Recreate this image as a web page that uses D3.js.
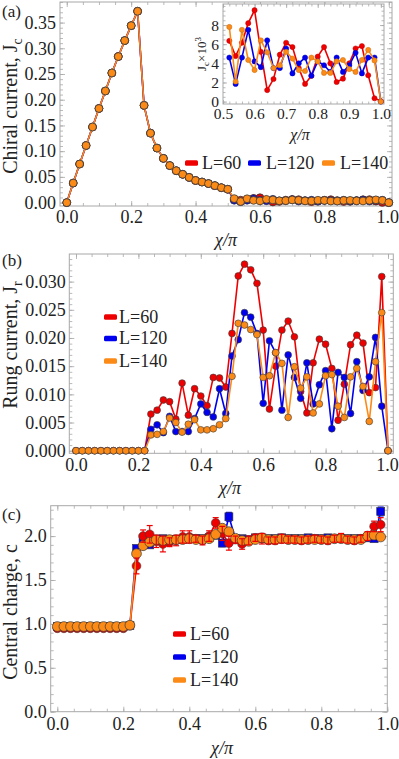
<!DOCTYPE html>
<html><head><meta charset="utf-8">
<script src="https://cdn.jsdelivr.net/npm/d3@7/dist/d3.min.js"></script>
<style>body{margin:0;background:#fff}</style>
</head><body><svg id="c" width="399" height="759"></svg>
<script>
// ---------- DATA ----------
const chi = [0,0.02,0.04,0.06,0.08,0.10,0.12,0.14,0.16,0.18,
             0.20,0.22,0.24,0.26,0.28,0.30,0.32,0.34,0.36,0.38,
             0.40,0.42,0.44,0.46,0.48,0.50,0.52,0.54,0.56,0.58,
             0.60,0.62,0.64,0.66,0.68,0.70,0.72,0.74,0.76,0.78,
             0.80,0.82,0.84,0.86,0.88,0.90,0.92,0.94,0.96,0.98,1.00];
const series = ["L=60","L=120","L=140"];

// (a) chiral current, common part chi=0..0.50
const jcCommon = [0,0.038,0.075,0.111,0.147,0.183,0.217,0.252,0.284,0.315,
                  0.344,0.372,0.189,0.135,0.106,0.086,0.072,0.062,0.055,0.049,
                  0.043,0.040,0.037,0.033,0.029,0.026];
// inset (x10^-3), chi = 0.52..1.00
const chiInset = [0.52,0.54,0.56,0.58,0.60,0.62,0.64,0.66,0.68,0.70,0.72,0.74,0.76,
                  0.78,0.80,0.82,0.84,0.86,0.88,0.90,0.92,0.94,0.96,0.98,1.00];
const jcInsetL60  = [6.35,4.76,6.15,8.2,9.55,5.2,1.2,2.36,4.9,6.15,5.7,3.5,1.85,2.7,4.7,5.7,4.0,2.05,2.4,4.0,5.55,5.8,2.75,0.35,0.05];
const jcInsetL120 = [4.6,1.85,4.6,7.5,4.2,3.6,6.4,3.5,3.5,5.55,2.95,4.0,4.6,2.7,4.2,3.8,3.1,4.6,3.1,3.8,5.1,2.95,4.6,4.6,0.0];
const jcInsetL140 = [7.8,2.1,7.5,4.35,3.3,6.4,5.15,3.5,3.8,5.2,4.5,3.3,3.2,4.6,4.2,3.0,3.0,4.2,4.35,3.4,3.1,4.35,5.4,4.3,0.0];

// (b) rung current
const jrL60 = [0,0,0,0,0,0,0,0,0,0,
  0,0,0.0065,0.0072,0.0090,0.0087,0.0056,0.0120,0.0063,0.0110,
  0.0097,0.0080,0.0130,0.0129,0.0113,0.0208,0.0310,0.0331,0.0321,0.0297,
  0.0214,0.0074,0.0150,0.0214,0.0230,0.0202,0.0105,0.0067,0.0156,0.0198,
  0.0189,0.0146,0.0054,0.0118,0.0188,0.0205,0.0191,0.0103,0.0112,0.0309,
  0.0];
const jrL120 = [0,0,0,0,0,0,0,0,0,0,
  0,0,0.0038,0.0046,0.0032,0.0061,0.0034,0.0034,0.0034,0.0057,
  0.0083,0.0068,0.0060,0.0110,0.0066,0.0168,0.0197,0.0245,0.0237,0.0208,
  0.0084,0.0195,0.0174,0.0072,0.0170,0.0130,0.0093,0.0156,0.0083,0.0117,
  0.0142,0.0039,0.0139,0.0130,0.0066,0.0158,0.0107,0.0131,0.0201,0.0079,
  0.0];
const jrL140 = [0,0,0,0,0,0,0,0,0,0,
  0,0,0.0028,0.0029,0.0034,0.0058,0.0050,0.0033,0.0047,0.0055,
  0.0037,0.0037,0.0039,0.0046,0.0057,0.0132,0.0226,0.0223,0.0215,0.0206,
  0.0130,0.0133,0.0174,0.0155,0.0059,0.0149,0.0111,0.0131,0.0067,0.0083,
  0.0133,0.0135,0.0079,0.0059,0.0131,0.0146,0.0114,0.0052,0.0158,0.0245,
  0.0];

// (c) central charge, chi = 0..0.98
const cL60 = [0.95,0.95,0.95,0.95,0.95,0.95,0.95,0.95,0.95,0.95,
  0.95,0.98,1.66,2.00,2.02,1.94,1.91,1.93,1.95,1.99,
  1.99,1.97,1.95,2.00,2.15,2.03,1.92,1.96,1.91,1.95,
  1.98,1.97,1.95,1.95,1.97,1.96,1.96,1.95,1.96,1.97,
  1.96,1.95,1.97,1.98,1.96,1.95,1.97,2.00,2.11,2.13];
const cErrL60 = [0.01,0.01,0.01,0.01,0.01,0.01,0.01,0.01,0.01,0.01,
  0.01,0.01,0.09,0.07,0.10,0.07,0.09,0.05,0.06,0.07,
  0.07,0.04,0.05,0.06,0.06,0.08,0.08,0.04,0.06,0.05,
  0.04,0.06,0.04,0.04,0.05,0.04,0.04,0.04,0.04,0.04,
  0.04,0.04,0.04,0.05,0.04,0.04,0.04,0.05,0.06,0.08];
const cL120 = [0.97,0.97,0.97,0.97,0.97,0.97,0.97,0.97,0.97,0.97,
  0.97,0.98,1.86,1.97,1.90,1.96,1.97,1.96,1.96,1.96,
  1.97,1.97,1.97,1.98,2.01,1.92,2.22,1.97,1.97,1.96,
  1.98,1.98,1.97,1.97,1.98,1.97,1.97,1.97,1.98,1.97,
  1.97,1.98,1.97,1.97,1.97,1.97,1.97,1.98,1.97,2.28];
const cErrL120 = [0.01,0.01,0.01,0.01,0.01,0.01,0.01,0.01,0.01,0.01,
  0.01,0.01,0.03,0.02,0.02,0.02,0.02,0.02,0.02,0.02,
  0.02,0.02,0.02,0.02,0.02,0.04,0.05,0.02,0.02,0.02,
  0.02,0.02,0.02,0.02,0.02,0.02,0.02,0.02,0.02,0.02,
  0.02,0.02,0.02,0.02,0.02,0.02,0.02,0.02,0.02,0.05];
const cL140 = [0.97,0.97,0.97,0.97,0.97,0.97,0.97,0.97,0.97,0.97,
  0.97,0.985,1.80,1.89,1.93,1.96,1.95,1.96,1.96,1.96,
  1.97,1.96,1.96,1.97,2.02,2.09,2.05,1.975,1.95,1.94,
  1.96,1.98,1.96,1.96,1.97,1.96,1.96,1.96,1.96,1.96,
  1.96,1.96,1.97,1.97,1.96,1.96,1.96,2.00,2.01,1.99];

// tick labels
const xTicksMain = [0,0.2,0.4,0.6,0.8,1.0];
const yTicksA = [0,0.05,0.10,0.15,0.20,0.25,0.30,0.35];
const xTicksInset = [0.5,0.6,0.7,0.8,0.9,1.0];
const yTicksInset = [0,2,4,6,8];
const yTicksB = [0,0.005,0.010,0.015,0.020,0.025,0.030];
const yTicksC = [0,0.5,1.0,1.5,2.0];

// ---------- DRAW ----------
const FONT = '"Liberation Serif","Times New Roman",serif';
const RED='#ee0000', BLUE='#0000ee', ORANGE='#fb8a17', FR='#a8a8a8', MK='#3a3a3a', TXT='#222';
const colors=[RED,BLUE,ORANGE];
const svg=d3.select('#c');
svg.append('rect').attr('width',399).attr('height',759).attr('fill','#fff');

function styleAxis(sel, fs){
  sel.select('.domain').remove();
  sel.attr('font-family',null).attr('font-size',null);
  sel.selectAll('line').attr('stroke',FR).attr('stroke-width',0.8);
  sel.selectAll('text').attr('font-family',FONT).attr('font-size',fs).attr('fill',TXT);
}
function frame(g, x, y, o){
  const [xl,xr]=x.range(), [yb,yt]=y.range();
  const xd=x.domain(), yd=y.domain();
  const minorX=d3.range(Math.ceil(xd[0]/o.xMinor-1e-9), Math.floor(xd[1]/o.xMinor+1e-9)+1).map(i=>+(i*o.xMinor).toFixed(6));
  const minorY=d3.range(Math.ceil(yd[0]/o.yMinor-1e-9), Math.floor(yd[1]/o.yMinor+1e-9)+1).map(i=>+(i*o.yMinor).toFixed(6));
  const add=(axis,tx,ty)=>g.append('g').attr('transform',`translate(${tx},${ty})`).call(axis).call(s=>styleAxis(s,o.fs));
  const M=o.major||5, m=o.minor||3;
  add(d3.axisBottom(x).tickValues(minorX).tickSize(-m).tickFormat(''),0,yb);
  add(d3.axisTop(x).tickValues(minorX).tickSize(-m).tickFormat(''),0,yt);
  add(d3.axisLeft(y).tickValues(minorY).tickSize(-m).tickFormat(''),xl,0);
  add(d3.axisRight(y).tickValues(minorY).tickSize(-m).tickFormat(''),xr,0);
  const bx=add(d3.axisBottom(x).tickValues(o.xTicks).tickSize(-M).tickPadding(o.xPad).tickFormat(d3.format(o.xFmt)),0,yb);
  if(o.lastDx) bx.selectAll('text').filter(d=>d===o.xTicks[o.xTicks.length-1]).attr('dx',o.lastDx);
  add(d3.axisTop(x).tickValues(o.xTicks).tickSize(-M).tickFormat(''),0,yt);
  add(d3.axisLeft(y).tickValues(o.yTicks).tickSize(-M).tickPadding(o.yPad).tickFormat(d3.format(o.yFmt)),xl,0);
  add(d3.axisRight(y).tickValues(o.yTicks).tickSize(-M).tickFormat(''),xr,0);
  g.append('rect').attr('x',xl).attr('y',yt).attr('width',xr-xl).attr('height',yb-yt)
    .attr('fill','none').attr('stroke',FR).attr('stroke-width',1);
}
function yTitle(cx, cy, main, sub, fs){
  const t=svg.append('text').attr('transform',`translate(${cx},${cy}) rotate(-90)`)
    .attr('text-anchor','middle').attr('font-family',FONT).attr('font-size',fs).attr('fill',TXT);
  t.append('tspan').text(main);
  if(sub) t.append('tspan').attr('font-size',fs*0.7).attr('dy',fs*0.25).text(sub);
}
function xTitle(cx, cy, fs){
  svg.append('text').attr('x',cx).attr('y',cy).attr('text-anchor','middle')
    .attr('font-family',FONT).attr('font-size',fs).attr('font-style','italic').attr('fill',TXT).text('χ/π');
}
function panelLabel(x,y,t){
  svg.append('text').attr('x',x).attr('y',y).attr('font-family',FONT).attr('font-size',17).attr('fill',TXT).text(t);
}
function legend(items){ // items: [sx, sy, tx]
  items.forEach((it,i)=>{
    svg.append('rect').attr('x',it[0]).attr('y',it[1]-2.8).attr('width',13).attr('height',5.6).attr('rx',1.5)
      .attr('fill',colors[i]);
    svg.append('text').attr('x',it[2]).attr('y',it[1]+5.5).attr('font-family',FONT).attr('font-size',18)
      .attr('fill',TXT).text(series[i]);
  });
}

// ===== Panel (a) =====
const xA=d3.scaleLinear().domain([-0.021,1.01]).range([60,392]);
const yA=d3.scaleLinear().domain([-0.0066,0.39]).range([206,2]);
const gA=svg.append('g');
frame(gA,xA,yA,{xTicks:xTicksMain,yTicks:yTicksA,xMinor:0.05,yMinor:0.01,xFmt:'.1f',yFmt:'.2f',fs:18,xPad:4,yPad:4,lastDx:-1.5});
const jcSeries=[jcInsetL60,jcInsetL120,jcInsetL140].map(ins=>jcCommon.concat(ins.map(v=>v/1000)));
const lineA=d3.line().x((d,i)=>xA(chi[i])).y(d=>yA(d));
jcSeries.forEach((s,k)=>{
  gA.append('path').attr('d',lineA(s)).attr('fill','none').attr('stroke',colors[k]).attr('stroke-width',1.6);
  gA.selectAll(null).data(s).join('circle').attr('cx',(d,i)=>xA(chi[i])).attr('cy',d=>yA(d)).attr('r',3.9)
    .attr('fill',colors[k]).attr('stroke',MK).attr('stroke-width',0.8);
});
legend([[185,163,202],[248,163,266],[322,163,340]]);
yTitle(17,106,'Chiral current, J','c',20);
xTitle(226,246,18);
panelLabel(2,17,'(a)');

// inset
const xI=d3.scaleLinear().domain([0.5,1.01]).range([223,384]);
const yI=d3.scaleLinear().domain([-0.25,10.2]).range([104,4]);
const gI=svg.append('g');
gI.append('rect').attr('x',223).attr('y',4).attr('width',161).attr('height',100).attr('fill','#fff');
frame(gI,xI,yI,{xTicks:xTicksInset,yTicks:yTicksInset,xMinor:0.02,yMinor:0.5,xFmt:'.1f',yFmt:'.0f',fs:15.5,xPad:4,yPad:4,major:4,minor:2.5});
const lineI=d3.line().x((d,i)=>xI(chiInset[i])).y(d=>yI(d));
[jcInsetL60,jcInsetL120,jcInsetL140].forEach((s,k)=>{
  gI.append('path').attr('d',lineI(s)).attr('fill','none').attr('stroke',colors[k]).attr('stroke-width',1.6);
  gI.selectAll(null).data(s).join('circle').attr('cx',(d,i)=>xI(chiInset[i])).attr('cy',d=>yI(d)).attr('r',2.6)
    .attr('fill',colors[k]).attr('stroke',d3.color(colors[k]).darker(0.6)).attr('stroke-width',0.5);
});
{
  const t=svg.append('text').attr('transform','translate(206,54) rotate(-90)').attr('text-anchor','middle')
    .attr('font-family',FONT).attr('font-size',13).attr('fill',TXT);
  t.append('tspan').text('J');
  t.append('tspan').attr('font-size',9).attr('dy',3).text('c');
  t.append('tspan').attr('dy',-3).text('×10');
  t.append('tspan').attr('font-size',9).attr('dy',-5).text('3');
}
xTitle(300,140,16);

// ===== Panel (b) =====
const xB=d3.scaleLinear().domain([-0.0215,1.017]).range([69.3,393.3]);
const yB=d3.scaleLinear().domain([-0.00046,0.0349]).range([453.3,254]);
const gB=svg.append('g');
frame(gB,xB,yB,{xTicks:xTicksMain,yTicks:yTicksB,xMinor:0.05,yMinor:0.001,xFmt:'.1f',yFmt:'.3f',fs:18,xPad:5,yPad:3.5,lastDx:-1});
const lineB=d3.line().x((d,i)=>xB(chi[i])).y(d=>yB(d));
[jrL60,jrL120,jrL140].forEach((s,k)=>{
  gB.append('path').attr('d',lineB(s)).attr('fill','none').attr('stroke',colors[k]).attr('stroke-width',1.6);
  gB.selectAll(null).data(s).join('circle').attr('cx',(d,i)=>xB(chi[i])).attr('cy',d=>yB(d)).attr('r',3.4)
    .attr('fill',colors[k]).attr('stroke',MK).attr('stroke-width',0.6);
});
legend([[104,317,119],[104,338.5,119],[104,361,119]]);
yTitle(17,345,'Rung current, J','r',20);
xTitle(230,494,18);
panelLabel(2,266,'(b)');

// ===== Panel (c) =====
const xC=d3.scaleLinear().domain([-0.02,1.0]).range([50.7,387.3]);
const yC=d3.scaleLinear().domain([0,2.346]).range([711.7,505.7]);
const gC=svg.append('g');
frame(gC,xC,yC,{xTicks:xTicksMain,yTicks:yTicksC,xMinor:0.05,yMinor:0.1,xFmt:'.1f',yFmt:'.1f',fs:18,xPad:6,yPad:4});
const lineC=d3.line().x((d,i)=>xC(chi[i])).y(d=>yC(d));
function errBars(g, vals, errs, col){
  const eb=g.append('g').attr('stroke',col).attr('stroke-width',1.2);
  vals.forEach((v,i)=>{
    if(errs[i]<0.025) return;
    const x=xC(chi[i]), y1=yC(v-errs[i]), y2=yC(v+errs[i]);
    eb.append('line').attr('x1',x).attr('x2',x).attr('y1',y1).attr('y2',y2);
    eb.append('line').attr('x1',x-3).attr('x2',x+3).attr('y1',y1).attr('y2',y1);
    eb.append('line').attr('x1',x-3).attr('x2',x+3).attr('y1',y2).attr('y2',y2);
  });
}
// blue (squares)
gC.append('path').attr('d',lineC(cL120)).attr('fill','none').attr('stroke',BLUE).attr('stroke-width',1.6);
errBars(gC,cL120,cErrL120,BLUE);
gC.selectAll(null).data(cL120).join('rect').attr('x',(d,i)=>xC(chi[i])-4).attr('y',d=>yC(d)-4)
  .attr('width',8).attr('height',8).attr('fill',BLUE).attr('stroke',MK).attr('stroke-width',0.6);
// red
gC.append('path').attr('d',lineC(cL60)).attr('fill','none').attr('stroke',RED).attr('stroke-width',1.6);
gC.selectAll(null).data(cL60).join('circle').attr('cx',(d,i)=>xC(chi[i])).attr('cy',d=>yC(d)).attr('r',4.4)
  .attr('fill',RED).attr('stroke',MK).attr('stroke-width',0.6);
// orange
gC.append('path').attr('d',lineC(cL140)).attr('fill','none').attr('stroke',ORANGE).attr('stroke-width',1.6);
gC.selectAll(null).data(cL140).join('circle').attr('cx',(d,i)=>xC(chi[i])).attr('cy',d=>yC(d)).attr('r',4.9)
  .attr('fill',ORANGE).attr('stroke',MK).attr('stroke-width',0.7);
errBars(gC,cL60,cErrL60,RED);
legend([[173,634,190],[173,657,190],[173,680,190]]);
yTitle(17,612,'Central charge, c','',20);
xTitle(222,754,18);
panelLabel(2,520,'(c)');
</script></body></html>
